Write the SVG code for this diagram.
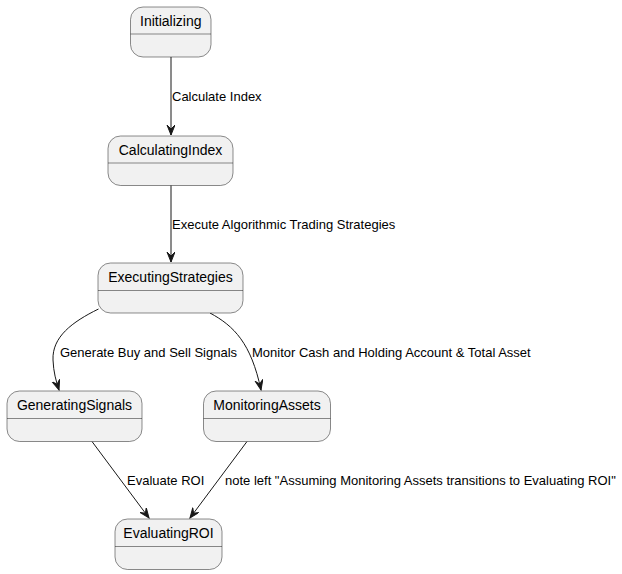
<svg xmlns="http://www.w3.org/2000/svg" width="622" height="574" viewBox="0 0 622 574">
<style>
.box{fill:#F1F1F1;stroke:#181818;stroke-width:0.5}
.div{stroke:#181818;stroke-width:0.5}
.name{font-family:"Liberation Sans",Arial,sans-serif;font-size:14px;fill:#000;text-anchor:middle}
.lbl{font-family:"Liberation Sans",Arial,sans-serif;font-size:13px;fill:#000}
.edge{fill:none;stroke:#181818;stroke-width:1;marker-end:url(#arr)}
</style>
<defs>
<marker id="arr" markerUnits="userSpaceOnUse" markerWidth="12" markerHeight="10" refX="10" refY="4" orient="auto" viewBox="0 0 12 10">
<path d="M0,0 L10,4 L0,8 L4,4 Z" fill="#181818" stroke="#181818" stroke-width="1"/>
</marker>
</defs>
<rect width="622" height="574" fill="#FFFFFF"/>
<g id="connectors">
<path class="edge" d="M171,57 L171,135"/>
<text class="lbl" x="172" y="101">Calculate Index</text>
<path class="edge" d="M171,185 L171,262"/>
<text class="lbl" x="172" y="229">Execute Algorithmic Trading Strategies</text>
<path class="edge" d="M98.5,309 C72,322 52,337 53,360 C53.5,372 56,381 59,390"/>
<text class="lbl" x="60" y="357">Generate Buy and Sell Signals</text>
<path class="edge" d="M210,313 C234,326 251,343 261,390"/>
<text class="lbl" x="252" y="357">Monitor Cash and Holding Account &amp; Total Asset</text>
<path class="edge" d="M92,441.5 L149,518"/>
<text class="lbl" x="127" y="485">Evaluate ROI</text>
<path class="edge" d="M247,441.5 L190,518"/>
<text class="lbl" x="225" y="485">note left "Assuming Monitoring Assets transitions to Evaluating ROI"</text>
</g>
<g id="Initializing">
<rect class="box" x="130.5" y="7" width="80.5" height="50" rx="12.5"/>
<line class="div" x1="130.5" y1="34" x2="211" y2="34"/>
<text class="name" x="170.75" y="26">Initializing</text>
</g>
<g id="CalculatingIndex">
<rect class="box" x="108" y="136" width="125" height="49.5" rx="12.5"/>
<line class="div" x1="108" y1="163" x2="233" y2="163"/>
<text class="name" x="170.5" y="155">CalculatingIndex</text>
</g>
<g id="ExecutingStrategies">
<rect class="box" x="98" y="263" width="145" height="50" rx="12.5"/>
<line class="div" x1="98" y1="290.5" x2="243" y2="290.5"/>
<text class="name" x="170.5" y="282">ExecutingStrategies</text>
</g>
<g id="GeneratingSignals">
<rect class="box" x="7" y="391" width="135" height="50.5" rx="12.5"/>
<line class="div" x1="7" y1="418.5" x2="142" y2="418.5"/>
<text class="name" x="74.5" y="410">GeneratingSignals</text>
</g>
<g id="MonitoringAssets">
<rect class="box" x="203.5" y="391" width="127" height="50.5" rx="12.5"/>
<line class="div" x1="203.5" y1="418.5" x2="330.5" y2="418.5"/>
<text class="name" x="267" y="410">MonitoringAssets</text>
</g>
<g id="EvaluatingROI">
<rect class="box" x="115" y="519" width="107" height="50.5" rx="12.5"/>
<line class="div" x1="115" y1="546.5" x2="222" y2="546.5"/>
<text class="name" x="168.5" y="538">EvaluatingROI</text>
</g>
</svg>
